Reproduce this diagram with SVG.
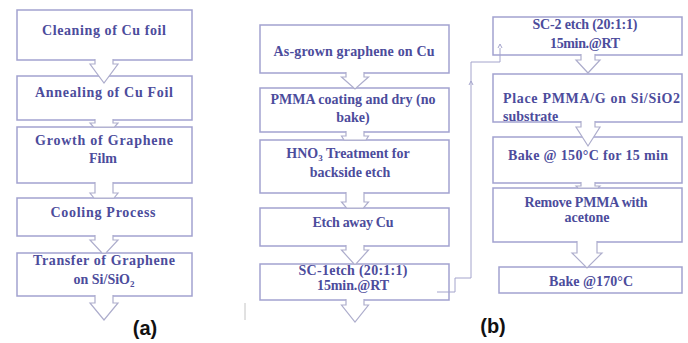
<svg xmlns="http://www.w3.org/2000/svg" width="688" height="343" viewBox="0 0 688 343">
<style>
.box{fill:none;stroke:#a2a2d0;stroke-width:1.5}
.arr{fill:#fff;stroke:#adadcc;stroke-width:1.2;stroke-linejoin:miter}
.t{font-family:"Liberation Serif","Times New Roman",serif;font-weight:bold;font-size:14px;fill:#4c4c9c;text-anchor:middle}
.lbl{font-family:"Liberation Sans",Arial,sans-serif;font-weight:bold;font-size:20px;fill:#111;text-anchor:middle}
.ln{fill:none;stroke:#a4a4cc;stroke-width:1}
</style>
<rect width="688" height="343" fill="#fff"/>

<!-- (a) -->
<g id="a1"><rect class="box" x="17" y="10" width="175" height="50"/><text class="t" x="104" y="34.5" textLength="124">Cleaning of Cu foil</text></g>
<g id="a2"><rect class="box" x="17" y="76" width="175" height="44"/><text class="t" x="104" y="96.5" textLength="138">Annealing of Cu Foil</text></g>
<g id="a3"><rect class="box" x="17" y="127" width="175" height="56"/><text class="t" x="104" y="144.5" textLength="138">Growth of Graphene</text><text class="t" x="103" y="162.5">Film</text></g>
<g id="a4"><rect class="box" x="17" y="198" width="175" height="38"/><text class="t" x="103" y="216.5" textLength="105">Cooling Process</text></g>
<g id="a5"><rect class="box" x="17" y="253" width="175" height="43"/><text class="t" x="104" y="264.5" textLength="142">Transfer of Graphene</text><text class="t" x="104" y="283.5">on Si/SiO<tspan font-size="9" dy="3">2</tspan></text></g>
<text class="lbl" x="145" y="335">(a)</text>

<!-- (b) left -->
<g id="b1"><rect class="box" x="260" y="25" width="189" height="48"/><text class="t" x="354" y="55.5" textLength="161">As-grown graphene on Cu</text></g>
<g id="b2"><rect class="box" x="260" y="88" width="189" height="44"/><text class="t" x="353" y="103.5" textLength="165">PMMA coating and dry (no</text><text class="t" x="353" y="121.5">bake)</text></g>
<g id="b3"><rect class="box" x="260" y="140" width="189" height="53"/><text class="t" x="348" y="157.5">HNO<tspan font-size="9" dy="3">3</tspan><tspan dy="-3"> Treatment for</tspan></text><text class="t" x="350" y="176.5">backside etch</text></g>
<g id="b4"><rect class="box" x="260" y="208" width="189" height="38"/><text class="t" x="353" y="226.5" textLength="81">Etch away Cu</text></g>
<g id="b5"><rect class="box" x="260" y="264" width="189" height="36"/><text class="t" x="353" y="274.5" textLength="109">SC-1etch (20:1:1)</text><text class="t" x="353" y="289.5" textLength="72">15min.@RT</text></g>

<!-- (b) right -->
<g id="c1"><rect class="box" x="493" y="17" width="189" height="38"/><text class="t" x="585" y="28.5" textLength="105">SC-2 etch (20:1:1)</text><text class="t" x="585" y="47.5" textLength="70">15min.@RT</text></g>
<g id="c2"><rect class="box" x="493" y="74" width="189" height="48"/><text class="t" x="503" y="102.5" textLength="177" style="text-anchor:start">Place PMMA/G on Si/SiO2</text><text class="t" x="503" y="120.5" style="text-anchor:start">substrate</text></g>
<g id="c3"><rect class="box" x="493" y="137" width="189" height="46"/><text class="t" x="588" y="159.5" textLength="160">Bake @ 150°C for 15 min</text></g>
<g id="c4"><rect class="box" x="493" y="188" width="189" height="54"/><text class="t" x="586" y="206.5" textLength="123">Remove PMMA with</text><text class="t" x="587" y="221.5">acetone</text></g>
<g id="c5"><rect class="box" x="499" y="267" width="183" height="26"/><text class="t" x="591" y="285.5" textLength="84">Bake @170°C</text></g>
<text class="lbl" x="493" y="333">(b)</text>

<line x1="245" y1="303" x2="245" y2="320" stroke="#c4c4c4" stroke-width="1"/>

<g id="connectors">
<!-- (a) cx=104 -->
<path class="arr" d="M95,59 V64 H90 L104,83 L118,64 H113 V59"/>
<path class="arr" d="M95,119 V123 H90 L93.5,127 H114.5 L118,123 H113 V119"/>
<path class="arr" d="M95,182 V193 H90 L94,198 H114 L118,193 H113 V182"/>
<path class="arr" d="M95,235 V240 H90 L102,253 H106 L118,240 H113 V235"/>
<path class="arr" d="M95,295 V303 H90 L104,320 L118,303 H113 V295"/>
<!-- (b) left cx=355 -->
<path class="arr" d="M346,72 V77 H341.5 L355,89 L368.5,77 H364 V72"/>
<path class="arr" d="M346,131 V136 H341.5 L344,140 H366 L368.5,136 H364 V131"/>
<path class="arr" d="M346,192 V202 H341.5 L346.5,208 H363.5 L368.5,202 H364 V192"/>
<path class="arr" d="M346,245 V250 H341.5 L354,264 H356 L368.5,250 H364 V245"/>
<path class="arr" d="M346,299 V305 H341.5 L355,322 L368.5,305 H364 V299"/>
<!-- (b) right cx=588 -->
<path class="arr" d="M581,54 V60 H576 L588,73 L600,60 H595 V54"/>
<path class="arr" d="M581,121 V127 H576 L588,146 L600,127 H595 V121"/>
<path class="arr" d="M581,182 V186 H576 L578,188 H598 L600,186 H595 V182"/>
<path class="arr" d="M577,241 V253 H572 L587,268 L602,253 H597 V241"/>
<!-- elbow connector -->
<path class="ln" d="M437,292 H455 V278 H471 V62 H500 V48"/>
<path class="ln" d="M469,85 L471,81 L473,85"/>
<path class="ln" d="M498,48 L500,44 L502,48"/>
</g>
</svg>
